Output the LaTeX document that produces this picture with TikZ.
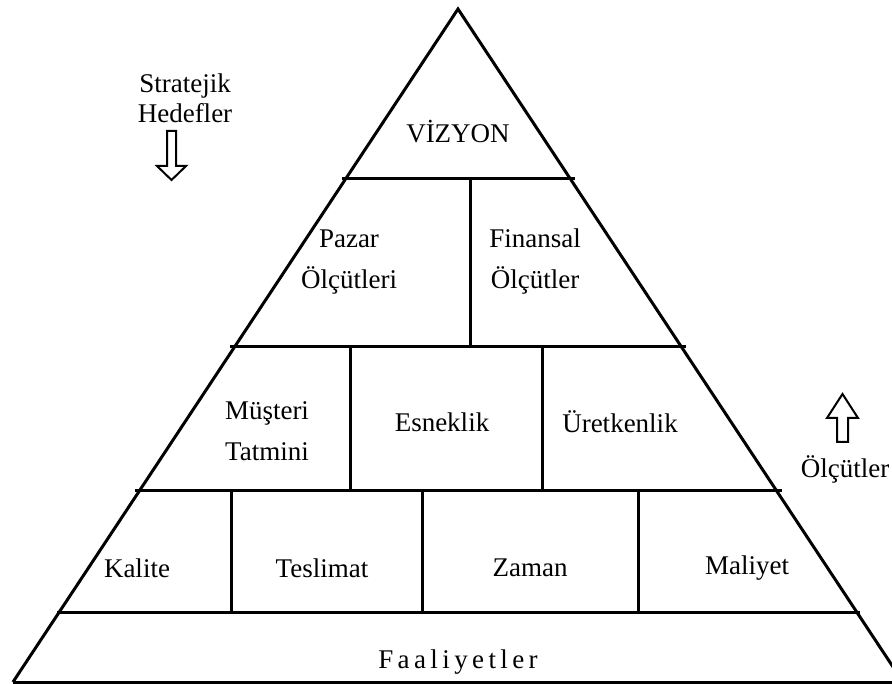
\documentclass[tikz,border=0pt]{standalone}
\usepackage{fontspec}
\setmainfont{Liberation Serif}
\newcommand{\gap}{\hspace{4.4pt}}
\begin{document}
\begin{tikzpicture}[x=1pt,y=-1pt,
  frame/.style={line width=3pt,line join=miter},
  divider/.style={line width=3pt},
  label/.style={font=\fontsize{27}{41}\selectfont,align=center,inner sep=0pt},
  sidelabel/.style={font=\fontsize{27}{30}\selectfont,align=center,inner sep=0pt},
  hollowarrow/.style={line width=2pt,line join=miter,fill=white}]
\useasboundingbox (0,0) rectangle (892,684);
\begin{scope}
\clip (0,0) rectangle (892,684);
% outer pyramid
\coordinate (apex) at (458,9);
\coordinate (bl) at (13,682);
\coordinate (br) at (903,682);
\draw[frame] (bl) -- (apex) -- (br);
\draw[frame] (bl) -- (br);
% tier dividers
\draw[divider] (342,179) -- (575,179);
\draw[divider] (230,347) -- (686,347);
\draw[divider] (135,491) -- (782,491);
\draw[divider] (57,612) -- (860,612);
% cell separators
\draw[divider] (470,179) -- (470,347);
\draw[divider] (350,347) -- (350,491);
\draw[divider] (542,347) -- (542,491);
\draw[divider] (231,491) -- (231,612);
\draw[divider] (422,491) -- (422,612);
\draw[divider] (638,491) -- (638,612);
\end{scope}
% labels
\node[label] (vizyon) at (458,132) {VİZYON};
\node[label] (pazar) at (349,262) {Pazar\\Ölçütleri};
\node[label] (finansal) at (535,262) {Finansal\\Ölçütler};
\node[label] (musteri) at (267,431) {Müşteri\\Tatmini};
\node[label] (esneklik) at (442,422) {Esneklik};
\node[label] (uretkenlik) at (620,422) {Üretkenlik};
\node[label] (kalite) at (137,568) {Kalite};
\node[label] (teslimat) at (322,568) {Teslimat};
\node[label] (zaman) at (530,568) {Zaman};
\node[label] (maliyet) at (747,568) {Maliyet};
\node[label] (faaliyetler) at (458,662) {F\gap a\gap a\gap l\gap i\gap y\gap e\gap t\gap l\gap e\gap r};
\node[sidelabel] (hedefler) at (185,98) {Stratejik\\Hedefler};
\node[sidelabel] (olcutler) at (845,469) {Ölçütler};
% hollow arrows
\draw[hollowarrow] (167,131) -- (176,131) -- (176,166) -- (186,166) -- (171.5,180)
  -- (157,166) -- (167,166) -- cycle;
\draw[hollowarrow] (837,442) -- (848,442) -- (848,418) -- (858,418) -- (842.5,394)
  -- (827,418) -- (837,418) -- cycle;
\end{tikzpicture}
\end{document}
